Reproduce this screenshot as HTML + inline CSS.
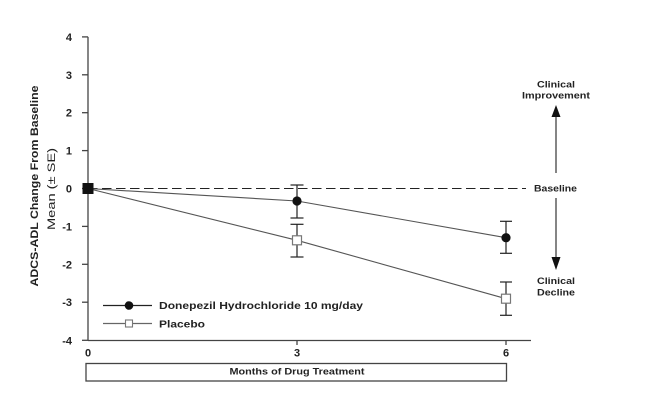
<!DOCTYPE html>
<html><head><meta charset="utf-8"><style>
html,body{margin:0;padding:0;background:#fff;}
svg{display:block;}
text{font-family:"Liberation Sans",Arial,sans-serif;fill:#222;}
</style></head><body>
<svg width="657" height="400" viewBox="0 0 657 400" xmlns="http://www.w3.org/2000/svg">
<rect width="657" height="400" fill="#fff"/>
<!-- Y axis -->
<g stroke="#444" stroke-width="1.3" fill="none">
<line x1="88" y1="36.9" x2="88" y2="340.5"/>
<line x1="82" y1="36.9" x2="88" y2="36.9"/>
<line x1="82" y1="74.8" x2="88" y2="74.8"/>
<line x1="82" y1="112.7" x2="88" y2="112.7"/>
<line x1="82" y1="150.6" x2="88" y2="150.6"/>
<line x1="82" y1="188.5" x2="88" y2="188.5"/>
<line x1="82" y1="226.4" x2="88" y2="226.4"/>
<line x1="82" y1="264.3" x2="88" y2="264.3"/>
<line x1="82" y1="302.2" x2="88" y2="302.2"/>
<line x1="82" y1="340.3" x2="88" y2="340.3"/>
<!-- X axis -->
<line x1="88" y1="340.5" x2="531" y2="340.5"/>
<line x1="297" y1="340.5" x2="297" y2="345"/>
<line x1="506" y1="340.5" x2="506" y2="345"/>
<!-- box -->
<rect x="86" y="363.5" width="420.5" height="17.5"/>
</g>
<g font-size="11" font-weight="bold" text-anchor="end">
<text x="72" y="40.9">4</text>
<text x="72" y="78.8">3</text>
<text x="72" y="116.7">2</text>
<text x="72" y="154.6">1</text>
<text x="72" y="192.5">0</text>
<text x="72" y="230.4">-1</text>
<text x="72" y="268.3">-2</text>
<text x="72" y="306.2">-3</text>
<text x="72" y="344.3">-4</text>
</g>
<g font-size="11" font-weight="bold" text-anchor="middle">
<text x="88" y="356.5">0</text>
<text x="297" y="356.5">3</text>
<text x="506" y="356.5">6</text>
</g>
<text x="297" y="374.5" font-size="9" font-weight="bold" text-anchor="middle" textLength="135" lengthAdjust="spacingAndGlyphs">Months of Drug Treatment</text>
<!-- Y axis label -->
<text transform="translate(38,186) rotate(-90)" font-size="11" font-weight="bold" text-anchor="middle" textLength="201" lengthAdjust="spacingAndGlyphs">ADCS-ADL Change From Baseline</text>
<text transform="translate(55,189) rotate(-90)" font-size="11" text-anchor="middle" textLength="82" lengthAdjust="spacingAndGlyphs">Mean (± SE)</text>
<!-- baseline dashed -->
<line x1="88" y1="188.5" x2="526" y2="188.5" stroke="#222" stroke-width="1" stroke-dasharray="9.5,4.5"/>
<text x="555.5" y="191.5" font-size="9" font-weight="bold" text-anchor="middle" textLength="43" lengthAdjust="spacingAndGlyphs">Baseline</text>
<!-- arrows -->
<g stroke="#333" stroke-width="1.2">
<line x1="556" y1="116" x2="556" y2="173"/>
<line x1="556" y1="198" x2="556" y2="258"/>
</g>
<polygon points="556,105 551.5,117 560.5,117" fill="#111"/>
<polygon points="556,270 551.5,257 560.5,257" fill="#111"/>
<g font-size="9.5" font-weight="bold" text-anchor="middle">
<text x="556" y="87.5" textLength="38" lengthAdjust="spacingAndGlyphs">Clinical</text>
<text x="556" y="98.5" textLength="68" lengthAdjust="spacingAndGlyphs">Improvement</text>
<text x="556" y="284" textLength="38" lengthAdjust="spacingAndGlyphs">Clinical</text>
<text x="556" y="295.5" textLength="38" lengthAdjust="spacingAndGlyphs">Decline</text>
</g>
<!-- data lines -->
<g stroke="#555" stroke-width="1.1" fill="none">
<polyline points="88,188.5 297,201 506,237.7"/>
<polyline points="88,188.5 297,240.3 506,298.7"/>
</g>
<!-- error bars -->
<g stroke="#222" stroke-width="1.2">
<line x1="297" y1="185" x2="297" y2="218"/>
<line x1="290.5" y1="185" x2="303.5" y2="185"/>
<line x1="290.5" y1="218" x2="303.5" y2="218"/>
<line x1="297" y1="224.3" x2="297" y2="257"/>
<line x1="290.5" y1="224.3" x2="303.5" y2="224.3"/>
<line x1="290.5" y1="257" x2="303.5" y2="257"/>
<line x1="506" y1="221.3" x2="506" y2="253.3"/>
<line x1="500" y1="221.3" x2="512" y2="221.3"/>
<line x1="500" y1="253.3" x2="512" y2="253.3"/>
<line x1="506" y1="282" x2="506" y2="315.3"/>
<line x1="500" y1="282" x2="512" y2="282"/>
<line x1="500" y1="315.3" x2="512" y2="315.3"/>
</g>
<!-- markers -->
<circle cx="297" cy="201" r="4.6" fill="#111"/>
<circle cx="506" cy="237.7" r="4.6" fill="#111"/>
<rect x="292.5" y="235.8" width="9" height="9" fill="#fff" stroke="#777" stroke-width="1.2"/>
<rect x="501.5" y="294.2" width="9" height="9" fill="#fff" stroke="#777" stroke-width="1.2"/>
<rect x="82.5" y="183" width="11" height="11" fill="#111"/>
<!-- legend -->
<line x1="103" y1="305.5" x2="152" y2="305.5" stroke="#222" stroke-width="1.2"/>
<circle cx="129" cy="305.5" r="4.3" fill="#111"/>
<line x1="103" y1="323.5" x2="152" y2="323.5" stroke="#666" stroke-width="1.2"/>
<rect x="125.5" y="320" width="7" height="7" fill="#fff" stroke="#777" stroke-width="1.1"/>
<g font-size="10" font-weight="bold">
<text x="159" y="309" textLength="204" lengthAdjust="spacingAndGlyphs">Donepezil Hydrochloride 10 mg/day</text>
<text x="159" y="327.5" textLength="46" lengthAdjust="spacingAndGlyphs">Placebo</text>
</g>
</svg>
</body></html>
